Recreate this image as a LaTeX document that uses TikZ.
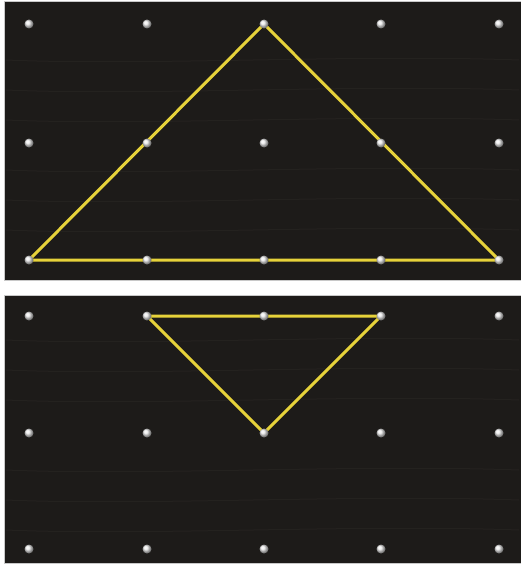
\documentclass[tikz,border=0pt]{standalone}
\usetikzlibrary{backgrounds}
\definecolor{board}{HTML}{1D1B19}
\definecolor{grain}{HTML}{2A2724}
\definecolor{band}{HTML}{E6D23A}
\definecolor{edge}{HTML}{C8C8C8}
\tikzset{
  panel/.style={fill=board, draw=edge, line width=0.8pt},
  peg/.style={circle, inner sep=0pt, minimum size=9pt, ball color=white!85!gray, draw=none},
  rubber/.style={draw=band, line width=3pt, line join=round, line cap=round},
  woodline/.style={draw=grain, line width=1pt, opacity=0.6}
}
\begin{document}
\begin{tikzpicture}[x=1pt,y=-1pt]
\useasboundingbox (0,0) rectangle (521,567);
\fill[white] (0,0) rectangle (521,567);
% panels
\path[panel] (4,1) rectangle (521,280);
\path[panel] (4,295) rectangle (521,563);
% faint grain
\foreach \yy in {60,90,120,170,200,230} {\draw[woodline] (6,\yy) .. controls (150,\yy+6) and (350,\yy-6) .. (519,\yy);}
\foreach \yy in {340,370,400,470,500,530} {\draw[woodline] (6,\yy) .. controls (150,\yy+6) and (350,\yy-6) .. (519,\yy);}
% peg coordinates
\foreach \c/\x in {1/29,2/147,3/264,4/381,5/499} {
  \coordinate (t1\c) at (\x,24);
  \coordinate (t2\c) at (\x,143);
  \coordinate (t3\c) at (\x,260);
  \coordinate (b1\c) at (\x,316);
  \coordinate (b2\c) at (\x,433);
  \coordinate (b3\c) at (\x,549);
}
% rubber bands
\draw[rubber] (t31) -- (t13) -- (t35) -- cycle;
\draw[rubber] (b12) -- (b14) -- (b23) -- cycle;
% pegs
\foreach \r in {t1,t2,t3,b1,b2,b3} {
  \foreach \c in {1,...,5} {
    \node[peg] (p\r\c) at (\r\c) {};
  }
}
\end{tikzpicture}
\end{document}
